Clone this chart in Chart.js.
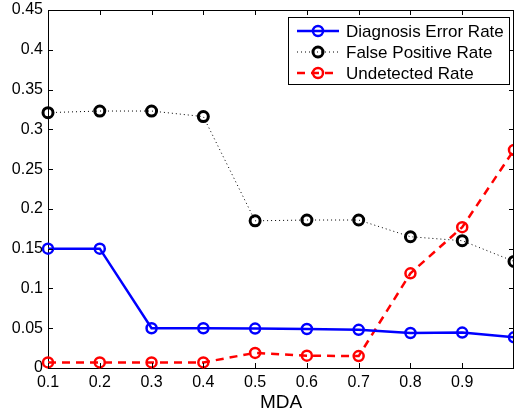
<!DOCTYPE html>
<html>
<head>
<meta charset="utf-8">
<script src="https://cdn.jsdelivr.net/npm/chart.js@4/dist/chart.umd.min.js"></script>
<style>
    html, body { margin: 0; padding: 0; background: #fff; }
    #wrap { width: 514px; height: 415px; }
</style>
</head>
<body>
<div id="wrap"><canvas id="mda-chart" width="514" height="415"></canvas></div>
<script>
// values
var mda = [0.1, 0.2, 0.3, 0.4, 0.5, 0.6, 0.7, 0.8, 0.9, 1.0]
var diagnosisError = [0.150, 0.150, 0.050, 0.050, 0.0495, 0.049, 0.048, 0.044, 0.0445, 0.0385]
var falsePositive = [0.321, 0.323, 0.323, 0.316, 0.185, 0.186, 0.186, 0.165, 0.160, 0.134]
var undetected = [0.007, 0.007, 0.007, 0.007, 0.019, 0.0155, 0.015, 0.119, 0.177, 0.274]

var seriesNames = ['Diagnosis Error Rate', 'False Positive Rate', 'Undetected Rate']
var xTickLabels = ['0.1', '0.2', '0.3', '0.4', '0.5', '0.6', '0.7', '0.8', '0.9', '']
var yTickLabels = ['0', '0.05', '0.1', '0.15', '0.2', '0.25', '0.3', '0.35', '0.4', '0.45']

var FONT = '"Liberation Sans", Arial, sans-serif'

function toPoints(ys)
{
    return ys.map(function (y, i) { return { x: mda[i], y: y } })
}

function noEdgePadding(scale)
{
    scale.paddingTop = 0
    scale.paddingBottom = 0
    scale.paddingLeft = 0
    scale.paddingRight = 0
}

// matlab style box: inward ticks on all four sides
var boxTicks = {
    id: 'boxTicks',
    afterDraw: function (chart)
    {
        var ctx = chart.ctx
        var a = chart.chartArea
        var xs = chart.scales.x
        var ys = chart.scales.y
        ctx.save()
        ctx.strokeStyle = '#000'
        ctx.lineWidth = 1
        ctx.beginPath()
        mda.forEach(function (v) {
            var px = Math.round(xs.getPixelForValue(v)) + 0.5
            ctx.moveTo(px, a.bottom); ctx.lineTo(px, a.bottom - 5)
            ctx.moveTo(px, a.top); ctx.lineTo(px, a.top + 5)
        })
        yTickLabels.forEach(function (t, i) {
            var py = Math.round(ys.getPixelForValue(i * 0.05)) + 0.5
            ctx.moveTo(a.left, py); ctx.lineTo(a.left + 5, py)
            ctx.moveTo(a.right, py); ctx.lineTo(a.right - 5, py)
        })
        ctx.stroke()
        ctx.beginPath()
        ctx.moveTo(a.left, a.top + 0.5); ctx.lineTo(a.right, a.top + 0.5)
        ctx.moveTo(a.right - 0.5, a.top); ctx.lineTo(a.right - 0.5, a.bottom)
        ctx.stroke()
        ctx.restore()
    }
}

// legend with line + marker samples
var boxLegend = {
    id: 'boxLegend',
    afterDraw: function (chart)
    {
        var ctx = chart.ctx
        var x0 = 288, y0 = 17, w = 221, h = 67
        ctx.save()
        ctx.fillStyle = '#fff'
        ctx.fillRect(x0, y0, w, h)
        ctx.strokeStyle = '#000'
        ctx.lineWidth = 1
        ctx.strokeRect(x0 + 0.5, y0 + 0.5, w, h)
        chart.data.datasets.forEach(function (ds, i) {
            var cy = y0 + 14 + i * 21
            ctx.strokeStyle = ds.borderColor
            ctx.lineWidth = ds.borderWidth
            ctx.setLineDash(ds.borderDash || [])
            ctx.beginPath()
            ctx.moveTo(297, cy); ctx.lineTo(339, cy)
            ctx.stroke()
            ctx.setLineDash([])
            ctx.lineWidth = ds.pointBorderWidth
            ctx.beginPath()
            ctx.arc(318, cy, ds.pointRadius, 0, Math.PI * 2)
            ctx.stroke()
            ctx.fillStyle = '#000'
            ctx.font = '17px ' + FONT
            ctx.textBaseline = 'middle'
            ctx.fillText(ds.label, 346, cy + 1)
        })
        ctx.restore()
    }
}

new Chart('mda-chart', {
    type: 'line',
    data: {
        datasets: [{
            label: seriesNames[0],
            data: toPoints(diagnosisError),
            borderColor: 'rgb(0, 0, 255)',
            borderWidth: 2.5,
            pointRadius: 5,
            pointBorderWidth: 2.5,
            pointBorderColor: 'rgb(0, 0, 255)',
            pointBackgroundColor: 'rgba(0, 0, 0, 0)',
            tension: 0
        }, {
            label: seriesNames[1],
            data: toPoints(falsePositive),
            borderColor: 'rgb(0, 0, 0)',
            borderWidth: 1,
            borderDash: [1, 3],
            pointRadius: 5,
            pointBorderWidth: 3,
            pointBorderColor: 'rgb(0, 0, 0)',
            pointBackgroundColor: 'rgba(0, 0, 0, 0)',
            tension: 0
        }, {
            label: seriesNames[2],
            data: toPoints(undetected),
            borderColor: 'rgb(255, 0, 0)',
            borderWidth: 2.5,
            borderDash: [8, 6],
            pointRadius: 5,
            pointBorderWidth: 2.5,
            pointBorderColor: 'rgb(255, 0, 0)',
            pointBackgroundColor: 'rgba(0, 0, 0, 0)',
            tension: 0
        }]
    },
    options: {
        responsive: false,
        animation: false,
        clip: false,
        layout: { autoPadding: false, padding: { top: 10, right: 0, left: 0, bottom: 0 } },
        plugins: {
            legend: { display: false },
            tooltip: { enabled: false }
        },
        scales: {
            x: {
                type: 'linear',
                min: 0.1,
                max: 1.0,
                afterBuildTicks: function (scale) {
                    scale.ticks = mda.map(function (v) { return { value: v } })
                },
                afterFit: function (scale) {
                    scale.height = 47
                    noEdgePadding(scale)
                },
                grid: { display: false, drawTicks: false, tickLength: 0 },
                border: { display: true, color: '#000', width: 1 },
                ticks: {
                    color: '#000',
                    font: { family: FONT, size: 16 },
                    padding: 5,
                    maxRotation: 0,
                    autoSkip: false,
                    callback: function (v, i) { return xTickLabels[i] }
                },
                title: {
                    display: true,
                    text: 'MDA',
                    color: '#000',
                    font: { family: FONT, size: 19 },
                    padding: { top: 0, bottom: 1 }
                }
            },
            y: {
                min: 0,
                max: 0.45,
                afterBuildTicks: function (scale) {
                    scale.ticks = yTickLabels.map(function (t, i) { return { value: i * 0.05 } })
                },
                afterFit: function (scale) {
                    scale.width = 48
                    noEdgePadding(scale)
                },
                grid: { display: false, drawTicks: false, tickLength: 0 },
                border: { display: true, color: '#000', width: 1 },
                ticks: {
                    color: '#000',
                    font: { family: FONT, size: 16 },
                    padding: 5,
                    autoSkip: false,
                    callback: function (v, i) { return yTickLabels[i] }
                }
            }
        }
    },
    plugins: [boxTicks, boxLegend]
})
</script>
</body>
</html>
